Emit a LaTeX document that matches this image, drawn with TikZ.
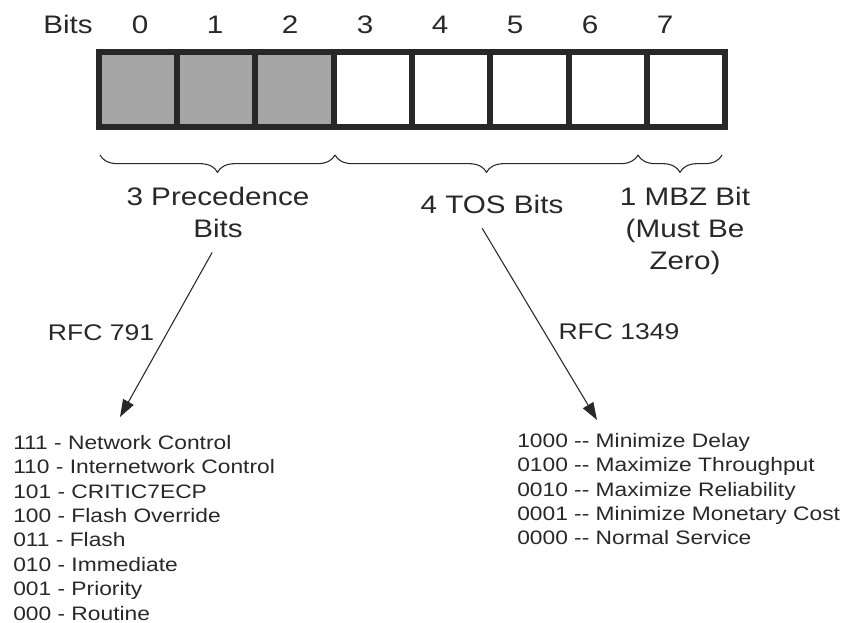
\documentclass[tikz,border=0pt]{standalone}
\usepackage{fontspec}
\setmainfont{Liberation Sans}[FakeStretch=1.17]
\usetikzlibrary{arrows.meta,decorations.pathreplacing}
\definecolor{bitgray}{RGB}{167,166,166}
\definecolor{ink}{RGB}{40,40,40}

\begin{document}
\begin{tikzpicture}[
    x=0.75pt, y=-0.75pt,
    every node/.style={text=ink},
    bitcell/.style={draw=ink, line width=4.5pt, minimum width=58.7pt, minimum height=56.3pt, inner sep=0pt},
    bitnum/.style={font=\fontsize{19}{22}\selectfont},
    group/.style={font=\fontsize{19}{24}\selectfont, align=center},
    rfc/.style={font=\fontsize{17}{20}\selectfont},
    codes/.style={font=\fontsize{14.6}{18.3}\selectfont, align=left, inner sep=0pt, anchor=north west},
    brc/.style={draw=ink, line width=0.8pt, decorate, decoration={brace,mirror,amplitude=13pt}},
    arr/.style={draw=ink, line width=0.8pt, -{Triangle[length=13pt,width=9pt]}},
]
\useasboundingbox (0,0) rectangle (848,623);

% the eight bits of the byte
\node[bitnum] (bits) at (68,24) {Bits};
\foreach \i in {0,...,7}
    \node[bitnum] (n\i) at (140+75*\i,25) {\i};
\foreach \i/\f in {0/bitgray,1/bitgray,2/bitgray,3/white,4/white,5/white,6/white,7/white}
    \node[bitcell, fill=\f] (c\i) at (138.125+78.25*\i,89.5) {};

% field groups
\draw[brc] (100,155) -- (335,155);
\draw[brc] (335,155) -- (638,155);
\draw[brc] (638,155) -- (722,155);

\node[group] (prec) at (218,212) {3 Precedence\\Bits};
\node[group] (tos) at (492,204) {4 TOS Bits};
\node[group] (mbz) at (685,231) {1 MBZ Bit\\(Must Be\\Zero)};

\node[rfc] (rfc791) at (101,333) {RFC 791};
\node[rfc] (rfc1349) at (619,332) {RFC 1349};

% value tables
\node[codes] (prio) at (13,435) {111 - Network Control\\110 - Internetwork Control\\101 - CRITIC7ECP\\100 - Flash Override\\011 - Flash\\010 - Immediate\\001 - Priority\\000 - Routine};
\node[codes] (tosvals) at (517,433) {1000 -{}- Minimize Delay\\0100 -{}- Maximize Throughput\\0010 -{}- Maximize Reliability\\0001 -{}- Minimize Monetary Cost\\0000 -{}- Normal Service};

\coordinate (tip791) at (120,417);
\coordinate (tip1349) at (597,420);
\draw[arr, shorten <=9pt] (prec.south) -- (tip791);
\draw[arr, shorten <=9pt] ([xshift=-12pt]tos.south) -- (tip1349);
\end{tikzpicture}
\end{document}
